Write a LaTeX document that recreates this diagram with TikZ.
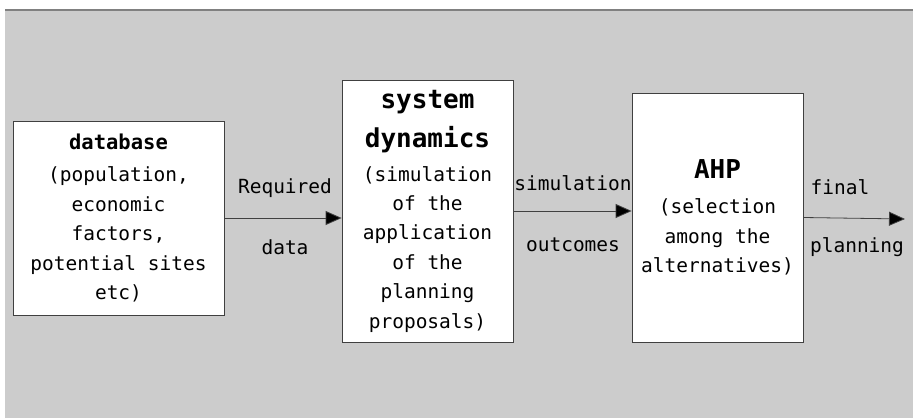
\documentclass[tikz,border=0pt]{standalone}
\usepackage{fontspec}
\setmainfont{DejaVu Sans Mono}
\usetikzlibrary{arrows.meta}
\definecolor{bggrey}{RGB}{204,204,204}
\definecolor{edgegrey}{RGB}{64,64,64}

\begin{document}
\begin{tikzpicture}[x = 1pt, y = -1pt,
  box/.style = {draw = edgegrey, line width = .8pt, fill = white, align = center, inner sep = 0pt,
                font = \fontsize{19.5}{29.4}\selectfont},
  lbl/.style = {inner sep = 0pt, font = \fontsize{19.5}{24}\selectfont},
  flow/.style = {-{Triangle[length = 16pt, width = 14pt, fill = black]}, line width = .8pt, draw = edgegrey}]
  \useasboundingbox (0,0) rectangle (913,418);
  \fill [bggrey] (5,10) rectangle (913,418);
  \draw [line width = 2pt, gray] (5,10) -- (913,10);
  \node (db) [box, minimum width = 211pt, minimum height = 194pt] at (118.5,218)
    {{\fontsize{20.5}{24}\selectfont\bfseries database}\\[3pt] (population,\\ economic\\ factors,\\ potential sites\\ etc)};
  \node (sd) [box, minimum width = 171pt, minimum height = 262pt] at (427.5,211)
    {{\fontsize{26}{30}\selectfont\bfseries system}\\[10pt] {\fontsize{26}{30}\selectfont\bfseries dynamics}\\[4pt] (simulation\\ of the\\ application\\ of the\\ planning\\ proposals)};
  \node (ahp) [box, minimum width = 171pt, minimum height = 249pt] at (717.5,217.5)
    {{\fontsize{26}{30}\selectfont\bfseries AHP}\\[6pt] (selection\\ among the\\ alternatives)};
  \coordinate (end) at (905,219);
  \node (req) [lbl] at (285,188) {Required};
  \node (data) [lbl] at (285,247) {data};
  \node (sim) [lbl] at (573,183) {simulation};
  \node (outc) [lbl] at (573,245) {outcomes};
  \node (fin) [lbl] at (840,187) {final};
  \node (plan) [lbl] at (857,247) {planning};
  \draw [flow] (db.east) -- (db.east -| sd.west);
  \draw [flow] (sd.east) -- (sd.east -| ahp.west);
  \draw [flow] (ahp.east) -- (end);
\end{tikzpicture}
\end{document}
